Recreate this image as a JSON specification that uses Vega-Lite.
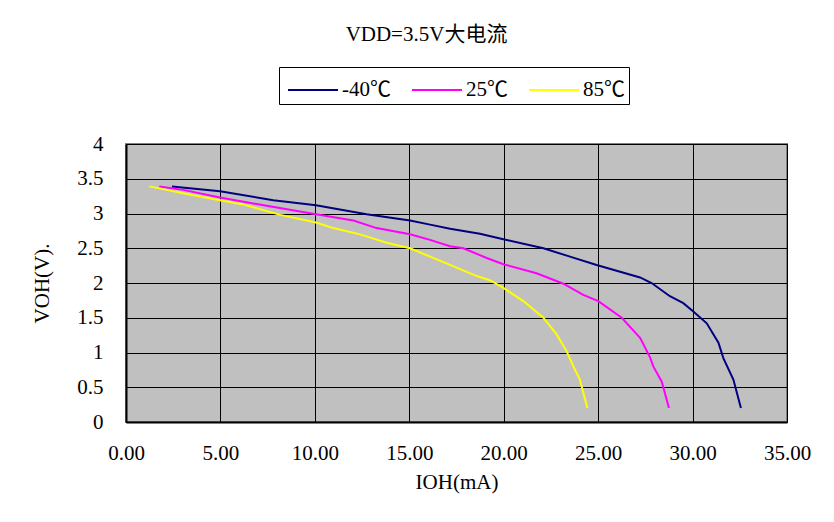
{
  "$schema": "https://vega.github.io/schema/vega-lite/v6.json",
  "width": 661,
  "height": 278,
  "autosize": {"type": "none"},
  "padding": {"left": 126, "top": 144, "right": 47, "bottom": 100},
  "background": "white",
  "title": {
    "text": "VDD=3.5V大电流",
    "anchor": "middle",
    "dx": -30,
    "offset": 22,
    "fontSize": 21,
    "fontWeight": "normal",
    "font": "Liberation Serif, Noto Sans CJK SC",
    "color": "black"
  },
  "data": {
    "values": [
      {"series": "-40℃", "ioh": 2.43, "voh": 3.39},
      {"series": "-40℃", "ioh": 4.98, "voh": 3.32},
      {"series": "-40℃", "ioh": 7.80, "voh": 3.19},
      {"series": "-40℃", "ioh": 10.06, "voh": 3.12},
      {"series": "-40℃", "ioh": 12.74, "voh": 2.99},
      {"series": "-40℃", "ioh": 15.04, "voh": 2.90},
      {"series": "-40℃", "ioh": 16.10, "voh": 2.84},
      {"series": "-40℃", "ioh": 17.16, "voh": 2.78},
      {"series": "-40℃", "ioh": 18.74, "voh": 2.71},
      {"series": "-40℃", "ioh": 19.98, "voh": 2.63},
      {"series": "-40℃", "ioh": 22.10, "voh": 2.50},
      {"series": "-40℃", "ioh": 23.51, "voh": 2.38},
      {"series": "-40℃", "ioh": 24.92, "voh": 2.26},
      {"series": "-40℃", "ioh": 27.22, "voh": 2.08},
      {"series": "-40℃", "ioh": 27.83, "voh": 2.00},
      {"series": "-40℃", "ioh": 28.80, "voh": 1.81},
      {"series": "-40℃", "ioh": 29.51, "voh": 1.71},
      {"series": "-40℃", "ioh": 30.04, "voh": 1.59},
      {"series": "-40℃", "ioh": 30.75, "voh": 1.42},
      {"series": "-40℃", "ioh": 31.37, "voh": 1.14},
      {"series": "-40℃", "ioh": 31.63, "voh": 0.92},
      {"series": "-40℃", "ioh": 32.16, "voh": 0.61},
      {"series": "-40℃", "ioh": 32.56, "voh": 0.20},
      {"series": "25℃", "ioh": 1.76, "voh": 3.39},
      {"series": "25℃", "ioh": 3.03, "voh": 3.34},
      {"series": "25℃", "ioh": 4.98, "voh": 3.23},
      {"series": "25℃", "ioh": 7.45, "voh": 3.11},
      {"series": "25℃", "ioh": 10.06, "voh": 2.99},
      {"series": "25℃", "ioh": 12.04, "voh": 2.90},
      {"series": "25℃", "ioh": 13.27, "voh": 2.79},
      {"series": "25℃", "ioh": 15.04, "voh": 2.70},
      {"series": "25℃", "ioh": 16.10, "voh": 2.62},
      {"series": "25℃", "ioh": 17.16, "voh": 2.53},
      {"series": "25℃", "ioh": 17.86, "voh": 2.50},
      {"series": "25℃", "ioh": 19.10, "voh": 2.36},
      {"series": "25℃", "ioh": 19.98, "voh": 2.27},
      {"series": "25℃", "ioh": 21.74, "voh": 2.14},
      {"series": "25℃", "ioh": 23.16, "voh": 1.99},
      {"series": "25℃", "ioh": 24.21, "voh": 1.83},
      {"series": "25℃", "ioh": 25.01, "voh": 1.74},
      {"series": "25℃", "ioh": 26.25, "voh": 1.50},
      {"series": "25℃", "ioh": 27.22, "voh": 1.21},
      {"series": "25℃", "ioh": 27.75, "voh": 0.93},
      {"series": "25℃", "ioh": 27.92, "voh": 0.80},
      {"series": "25℃", "ioh": 28.37, "voh": 0.58},
      {"series": "25℃", "ioh": 28.75, "voh": 0.20},
      {"series": "85℃", "ioh": 1.24, "voh": 3.39},
      {"series": "85℃", "ioh": 3.03, "voh": 3.29},
      {"series": "85℃", "ioh": 4.98, "voh": 3.19},
      {"series": "85℃", "ioh": 6.21, "voh": 3.13},
      {"series": "85℃", "ioh": 8.17, "voh": 2.98},
      {"series": "85℃", "ioh": 10.06, "voh": 2.87},
      {"series": "85℃", "ioh": 10.98, "voh": 2.79},
      {"series": "85℃", "ioh": 12.39, "voh": 2.70},
      {"series": "85℃", "ioh": 13.80, "voh": 2.58},
      {"series": "85℃", "ioh": 15.04, "voh": 2.50},
      {"series": "85℃", "ioh": 16.10, "voh": 2.38},
      {"series": "85℃", "ioh": 17.16, "voh": 2.26},
      {"series": "85℃", "ioh": 18.57, "voh": 2.10},
      {"series": "85℃", "ioh": 19.27, "voh": 2.04},
      {"series": "85℃", "ioh": 19.98, "voh": 1.93},
      {"series": "85℃", "ioh": 21.04, "voh": 1.74},
      {"series": "85℃", "ioh": 22.10, "voh": 1.50},
      {"series": "85℃", "ioh": 22.80, "voh": 1.26},
      {"series": "85℃", "ioh": 23.33, "voh": 1.02},
      {"series": "85℃", "ioh": 23.69, "voh": 0.80},
      {"series": "85℃", "ioh": 24.03, "voh": 0.61},
      {"series": "85℃", "ioh": 24.43, "voh": 0.20}
    ]
  },
  "mark": {"type": "line", "strokeWidth": 2, "clip": true},
  "encoding": {
    "x": {
      "field": "ioh",
      "type": "quantitative",
      "scale": {"domain": [0, 35], "nice": false, "zero": false},
      "axis": {
        "title": "IOH(mA)",
        "values": [0, 5, 10, 15, 20, 25, 30, 35],
        "format": ".2f",
        "labelFlush": false,
        "labelPadding": 20,
        "titlePadding": 8
      }
    },
    "y": {
      "field": "voh",
      "type": "quantitative",
      "scale": {"domain": [0, 4], "nice": false},
      "axis": {
        "title": "VOH(V).",
        "values": [0, 0.5, 1, 1.5, 2, 2.5, 3, 3.5, 4],
        "format": "~g",
        "labelFlush": false,
        "labelPadding": 23,
        "titlePadding": 24
      }
    },
    "color": {
      "field": "series",
      "type": "nominal",
      "scale": {"domain": ["-40℃", "25℃", "85℃"], "range": ["#000080", "#FF00FF", "#FFFF00"]},
      "legend": {
        "title": null,
        "orient": "none",
        "legendX": 153,
        "legendY": -77,
        "direction": "horizontal",
        "strokeColor": "black",
        "padding": 4,
        "symbolType": "M-1.39,0H1.39",
        "symbolSize": 1296,
        "symbolOffset": 11,
        "symbolStrokeWidth": 2,
        "labelFontSize": 21,
        "labelFont": "Liberation Serif, Noto Sans CJK SC",
        "labelColor": "black",
        "labelOffset": 10,
        "columnPadding": 16
      }
    }
  },
  "config": {
    "font": "Liberation Serif, Noto Sans CJK SC",
    "view": {"fill": "#C0C0C0", "stroke": "#808080", "strokeWidth": 2},
    "axis": {
      "labelFontSize": 21,
      "titleFontSize": 21,
      "titleFontWeight": "normal",
      "labelColor": "black",
      "titleColor": "black",
      "labelFont": "Liberation Serif, Noto Sans CJK SC",
      "titleFont": "Liberation Serif, Noto Sans CJK SC",
      "grid": true,
      "gridColor": "#000000",
      "gridOpacity": 1,
      "gridWidth": 1,
      "ticks": false,
      "domainColor": "#000000",
      "domainWidth": 2
    }
  }
}
